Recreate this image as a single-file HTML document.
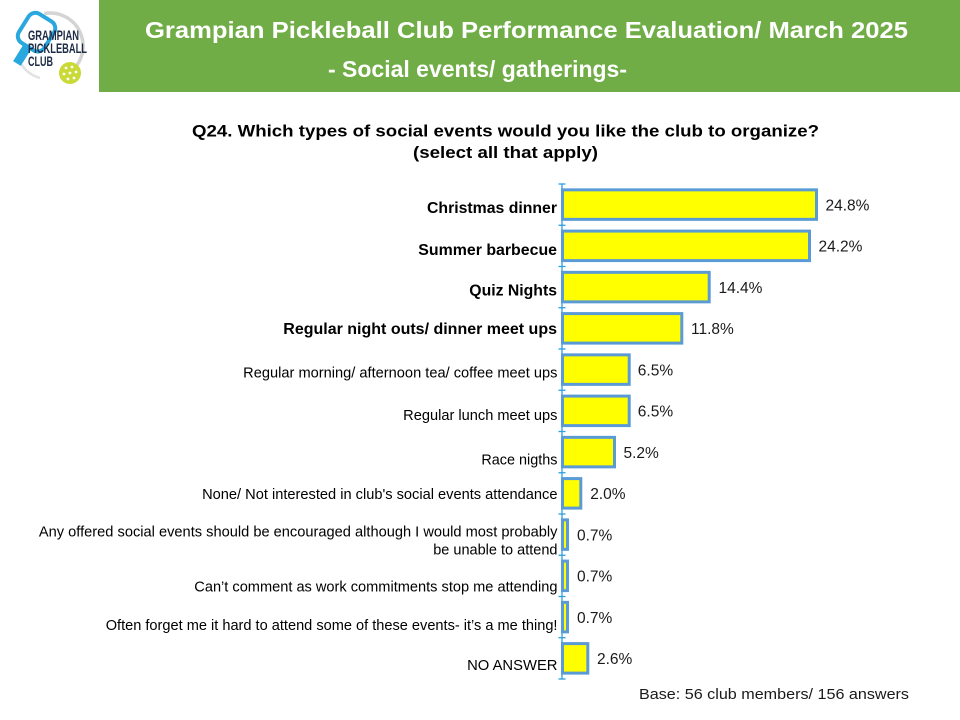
<!DOCTYPE html>
<html>
<head>
<meta charset="utf-8">
<style>
  html, body { margin:0; padding:0; background:#ffffff; }
  body { width:960px; height:720px; overflow:hidden; }
  svg { display:block; }
</style>
</head>
<body>
<svg width="960" height="720" viewBox="0 0 960 720" xmlns="http://www.w3.org/2000/svg">
  <rect x="0" y="0" width="960" height="720" fill="#ffffff"/>

  <!-- Header band -->
  <rect x="99" y="0" width="861" height="92" fill="#70AD47"/>
  <text x="145" y="38" font-family="Liberation Sans, Arial, sans-serif" font-weight="bold" font-size="23.5" fill="#ffffff" textLength="763" lengthAdjust="spacingAndGlyphs">Grampian Pickleball Club Performance Evaluation/ March 2025</text>
  <text x="328" y="77" font-family="Liberation Sans, Arial, sans-serif" font-weight="bold" font-size="23.5" fill="#ffffff" textLength="299" lengthAdjust="spacingAndGlyphs">- Social events/ gatherings-</text>

  <!-- Logo -->
  <g>
    <path d="M44.3 13.5 A33 33 0 0 1 66.5 74.6" fill="none" stroke="#d4d4d4" stroke-width="3.5"/>
    <path d="M20 62 A33 33 0 0 0 40 78" fill="none" stroke="#e2e2e2" stroke-width="2.5"/>
    <g transform="rotate(32 36 33)">
      <rect x="21" y="15" width="30" height="34" rx="8" ry="8" fill="#ffffff" stroke="#29A8E0" stroke-width="4"/>
      <rect x="31.5" y="49" width="9" height="20" fill="#29A8E0"/>
    </g>
    <rect x="26" y="27" width="62" height="40" fill="#ffffff" opacity="0.0"/>
    <text x="28" y="40" font-family="Liberation Sans, Arial, sans-serif" font-weight="bold" font-size="14" fill="#1E2B45" textLength="51" lengthAdjust="spacingAndGlyphs">GRAMPIAN</text>
    <text x="28" y="53" font-family="Liberation Sans, Arial, sans-serif" font-weight="bold" font-size="14" fill="#1E2B45" textLength="59" lengthAdjust="spacingAndGlyphs">PICKLEBALL</text>
    <text x="28" y="66" font-family="Liberation Sans, Arial, sans-serif" font-weight="bold" font-size="14" fill="#1E2B45" textLength="25" lengthAdjust="spacingAndGlyphs">CLUB</text>
    <circle cx="70" cy="73" r="11" fill="#C9D936"/>
    <circle cx="66" cy="68" r="1.4" fill="#ffffff"/>
    <circle cx="72" cy="67" r="1.4" fill="#ffffff"/>
    <circle cx="76" cy="72" r="1.4" fill="#ffffff"/>
    <circle cx="70" cy="73" r="1.4" fill="#ffffff"/>
    <circle cx="64" cy="74" r="1.4" fill="#ffffff"/>
    <circle cx="68" cy="79" r="1.4" fill="#ffffff"/>
    <circle cx="74" cy="78" r="1.4" fill="#ffffff"/>
  </g>

  <!-- Question -->
  <text x="192" y="136.7" font-family="Liberation Sans, Arial, sans-serif" font-weight="bold" font-size="17" fill="#000000" textLength="627" lengthAdjust="spacingAndGlyphs">Q24. Which types of social events would you like the club to organize?</text>
  <text x="413" y="158" font-family="Liberation Sans, Arial, sans-serif" font-weight="bold" font-size="17" fill="#000000" textLength="185" lengthAdjust="spacingAndGlyphs">(select all that apply)</text>

  <!-- Axis -->
  <g stroke="#2E9FE0" stroke-width="1.3">
    <line x1="562" y1="184" x2="562" y2="679"/>
    <line x1="558.5" y1="184" x2="565.5" y2="184"/>
    <line x1="558.5" y1="225.25" x2="565.5" y2="225.25"/>
    <line x1="558.5" y1="266.5" x2="565.5" y2="266.5"/>
    <line x1="558.5" y1="307.75" x2="565.5" y2="307.75"/>
    <line x1="558.5" y1="349" x2="565.5" y2="349"/>
    <line x1="558.5" y1="390.25" x2="565.5" y2="390.25"/>
    <line x1="558.5" y1="431.5" x2="565.5" y2="431.5"/>
    <line x1="558.5" y1="472.75" x2="565.5" y2="472.75"/>
    <line x1="558.5" y1="514" x2="565.5" y2="514"/>
    <line x1="558.5" y1="555.25" x2="565.5" y2="555.25"/>
    <line x1="558.5" y1="596.5" x2="565.5" y2="596.5"/>
    <line x1="558.5" y1="637.75" x2="565.5" y2="637.75"/>
    <line x1="558.5" y1="679" x2="565.5" y2="679"/>
  </g>

  <!-- Bars -->
  <g fill="#FFFF00" stroke="#5B9BD5" stroke-width="3">
    <rect x="562.5" y="189.85" width="254" height="29.5"/>
    <rect x="562.5" y="231.1" width="247" height="29.5"/>
    <rect x="562.5" y="272.35" width="146.7" height="29.5"/>
    <rect x="562.5" y="313.6" width="119.3" height="29.5"/>
    <rect x="562.5" y="354.85" width="66.7" height="29.5"/>
    <rect x="562.5" y="396.1" width="66.7" height="29.5"/>
    <rect x="562.5" y="437.35" width="52" height="29.5"/>
    <rect x="562.5" y="478.6" width="18.3" height="29.5"/>
    <rect x="562.5" y="519.85" width="5" height="29.5"/>
    <rect x="562.5" y="561.1" width="5" height="29.5"/>
    <rect x="562.5" y="602.35" width="5" height="29.5"/>
    <rect x="562.5" y="643.6" width="25.3" height="29.5"/>
  </g>

  <!-- Value labels -->
  <g font-family="Liberation Sans, Arial, sans-serif" font-size="15.5" fill="#1a1a1a">
    <text x="825.5" y="210.4">24.8%</text>
    <text x="818.5" y="251.7">24.2%</text>
    <text x="718.5" y="292.9">14.4%</text>
    <text x="691" y="334.2">11.8%</text>
    <text x="637.8" y="375.4">6.5%</text>
    <text x="637.8" y="416.7">6.5%</text>
    <text x="623.5" y="457.9">5.2%</text>
    <text x="590.2" y="499.2">2.0%</text>
    <text x="577" y="540.4">0.7%</text>
    <text x="577" y="581.7">0.7%</text>
    <text x="577" y="622.9">0.7%</text>
    <text x="597" y="664.2">2.6%</text>
  </g>

  <!-- Category labels -->
  <g font-family="Liberation Sans, Arial, sans-serif" font-weight="bold" font-size="16" fill="#000000" text-anchor="end">
    <text x="557" y="213" textLength="130" lengthAdjust="spacingAndGlyphs">Christmas dinner</text>
    <text x="557" y="255" textLength="138.7" lengthAdjust="spacingAndGlyphs">Summer barbecue</text>
    <text x="557" y="295.7" textLength="87.7" lengthAdjust="spacingAndGlyphs">Quiz Nights</text>
    <text x="557" y="334" textLength="273.7" lengthAdjust="spacingAndGlyphs">Regular night outs/ dinner meet ups</text>
  </g>
  <g font-family="Liberation Sans, Arial, sans-serif" font-size="14.6" fill="#000000" text-anchor="end">
    <text x="557.5" y="377.3" textLength="314.3" lengthAdjust="spacingAndGlyphs">Regular morning/ afternoon tea/ coffee meet ups</text>
    <text x="557.5" y="420" textLength="154.3" lengthAdjust="spacingAndGlyphs">Regular lunch meet ups</text>
    <text x="557.5" y="464.3" textLength="76.1" lengthAdjust="spacingAndGlyphs">Race nigths</text>
    <text x="557.5" y="499" textLength="355.4" lengthAdjust="spacingAndGlyphs">None/ Not interested in club's social events attendance</text>
    <text x="557.5" y="536.7" textLength="518.6" lengthAdjust="spacingAndGlyphs">Any offered social events should be encouraged although I would most probably</text>
    <text x="557.5" y="554.3" textLength="124.3" lengthAdjust="spacingAndGlyphs">be unable to attend</text>
    <text x="557.5" y="591.7" textLength="363.2" lengthAdjust="spacingAndGlyphs">Can’t comment as work commitments stop me attending</text>
    <text x="557.5" y="630" textLength="451.8" lengthAdjust="spacingAndGlyphs">Often forget me it hard to attend some of these events- it’s a me thing!</text>
    <text x="557.5" y="670" textLength="90.4" lengthAdjust="spacingAndGlyphs">NO ANSWER</text>
  </g>

  <!-- Base note -->
  <text x="639" y="699" font-family="Liberation Sans, Arial, sans-serif" font-size="15" fill="#1a1a1a" textLength="270" lengthAdjust="spacingAndGlyphs">Base: 56 club members/ 156 answers</text>
</svg>
</body>
</html>
